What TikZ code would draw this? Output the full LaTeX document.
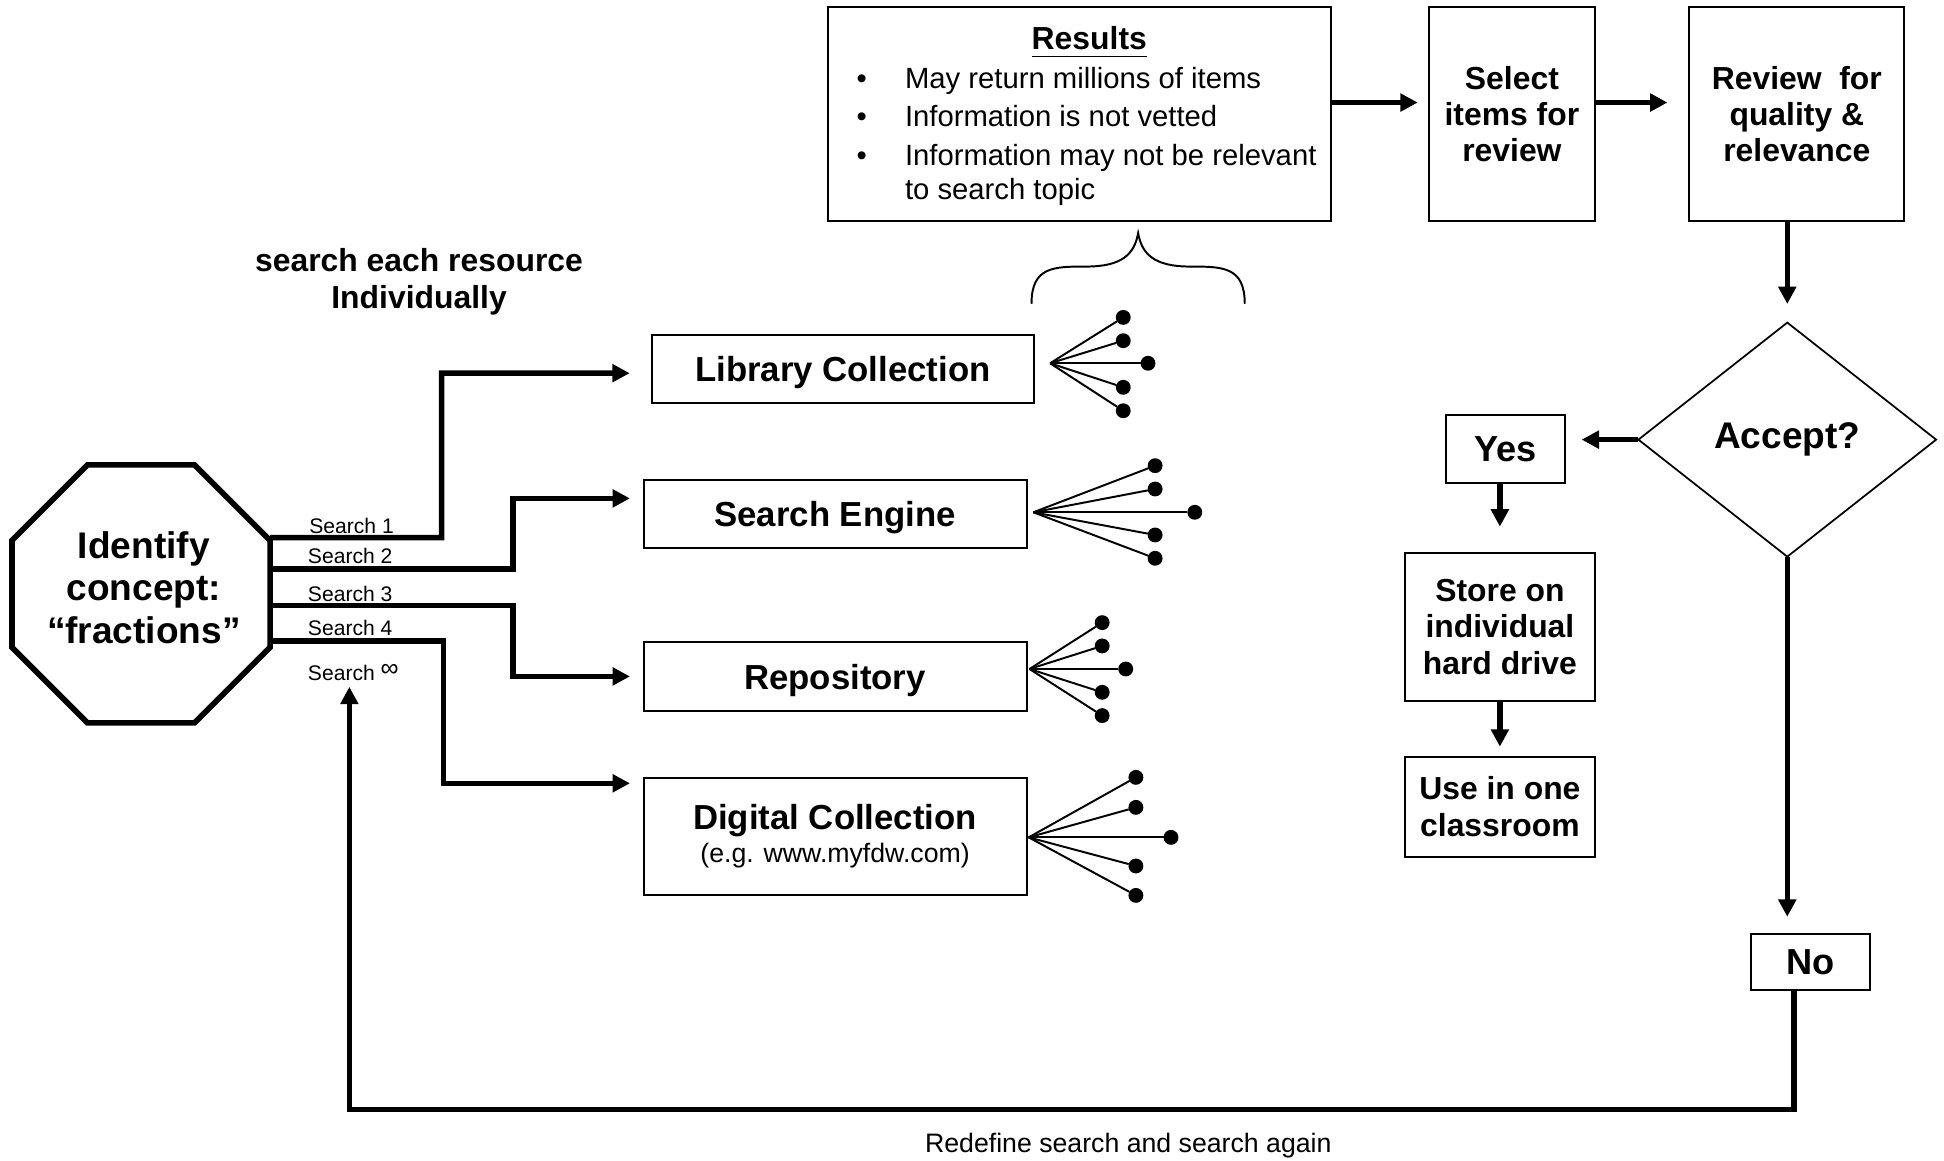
\documentclass[tikz,border=0pt]{standalone}
\usepackage{fontspec}
\setmainfont{Liberation Sans}
\usetikzlibrary{arrows.meta,calc,shapes.geometric}

\begin{document}
\begin{tikzpicture}[x=0.01cm,y=-0.01cm,
  every node/.style={inner sep=0pt,outer sep=0pt},
  box/.style={draw,line width=0.45pt,align=center},
  conn/.style={line width=0.045cm,-{Triangle[length=0.14cm,width=0.14cm]}},
  fanline/.style={line width=0.45pt},
  dot/.style={circle,fill,minimum size=0.12cm},
  fbig/.style={font=\fontsize{8.5pt}{9.76pt}\selectfont\bfseries},
  fyn/.style={font=\fontsize{8.3pt}{9.5pt}\selectfont\bfseries},
  fbox/.style={font=\fontsize{7.97pt}{8.1pt}\selectfont\bfseries},
  fmed/.style={font=\fontsize{7.31pt}{8.34pt}\selectfont\bfseries},
  flist/.style={font=\fontsize{6.71pt}{8pt}\selectfont},
  fsmall/.style={font=\fontsize{6.12pt}{7.5pt}\selectfont},
  ftiny/.style={font=\fontsize{4.84pt}{6pt}\selectfont},
]
\useasboundingbox (0,0) rectangle (1568,936);

% ---- starting point ----
\node[regular polygon,regular polygon sides=8,draw,line width=0.045cm,
      minimum size=2.252cm] (oct) at (113.75,479) {};
\node[fbig,align=center,text depth=0pt] (octtext) at (116,473.6)
      {Identify\\concept:\\“fractions”};

\node[fmed,align=center] (hint) at (338,227.3) {search each resource\\Individually};

% ---- resources ----
\node[box,fbox,minimum width=3.083cm,minimum height=0.546cm,text depth=0pt] (lib) at (679.85,297.5) {Library Collection};
\node[box,fbox,minimum width=3.087cm,minimum height=0.551cm,text depth=0pt] (seng) at (673.55,414.7) {Search Engine};
\node[box,fbox,minimum width=3.087cm,minimum height=0.552cm,text depth=0pt] (repo) at (673.55,545.6) {Repository};
\node[box,minimum width=3.087cm,minimum height=0.941cm,align=center,
      font=\fontsize{6.12pt}{7.75pt}\selectfont] (digi) at (673.55,674.5)
      {{\fontsize{7.97pt}{8pt}\selectfont\bfseries Digital Collection}\\
       (e.g. www.myfdw.com)};

% ---- search paths ----
\draw[conn,shorten >=0.177cm] ($(oct.east)+(0,-45.3)$) -- (356.2,433.7) |- ($(lib.west)+(0,3.5)$);
\draw[conn,shorten >=0.11cm]  ($(oct.east)+(0,-20)$)   -- (414,459)     |- ($(seng.west)+(0,-12.7)$);
\draw[conn,shorten >=0.11cm]  ($(oct.east)+(0,9.5)$)   -- (414,488.5)   |- (repo.west);
\draw[conn,shorten >=0.11cm]  ($(oct.east)+(0,38)$)    -- (357.6,517)   |- ($(digi.west)+(0,-42.7)$);

\node[ftiny,anchor=base west] (s1) at (249.5,430.7) {Search 1};
\node[ftiny,anchor=base west] (s2) at (248.4,454.4) {Search 2};
\node[ftiny,anchor=base west] (s3) at (248.4,485.3) {Search 3};
\node[ftiny,anchor=base west] (s4) at (248.4,512.2) {Search 4};
\node[ftiny,anchor=base west] (sinf) at (248.4,549) {Search \raisebox{0.22em}{\fontsize{5.8pt}{6pt}\selectfont ∞}};

% ---- result fans ----
\coordinate (libfan) at (847,293);
\foreach \i/\px/\py in {1/906/256,2/906/274.8,3/926/293,4/906/312.4,5/906/331.3}{
  \node[dot] (libfan\i) at (\px,\py) {};
  \draw[fanline] (libfan) -- (libfan\i);
}
\coordinate (sengfan) at (833.5,413.2);
\foreach \i/\px/\py in {1/931.7/375.6,2/931.7/394.4,3/963.7/413.2,4/931.7/431.5,5/931.7/450.3}{
  \node[dot] (sengfan\i) at (\px,\py) {};
  \draw[fanline] (sengfan) -- (sengfan\i);
}
\coordinate (repofan) at (830.4,539.6);
\foreach \i/\px/\py in {1/889/502.2,2/889/521,3/908/539.6,4/889/558.4,5/889/577.2}{
  \node[dot] (repofan\i) at (\px,\py) {};
  \draw[fanline] (repofan) -- (repofan\i);
}
\coordinate (digifan) at (829.7,675.4);
\foreach \i/\px/\py in {1/916.2/627,2/916.2/651.2,3/944.5/675.4,4/916.2/698.5,5/916.2/722.2}{
  \node[dot] (digifan\i) at (\px,\py) {};
  \draw[fanline] (digifan) -- (digifan\i);
}

% ---- brace gathering the results ----
\draw[line width=0.45pt] (832,245) .. controls (832,215) and (850,215) .. (876,215)
  .. controls (905,215) and (915,205) .. (918,188)
  .. controls (921,205) and (931,215) .. (960,215)
  .. controls (986,215) and (1004,215) .. (1004,245);

% ---- results box ----
\node[box,line width=0.55pt,minimum width=4.056cm,minimum height=1.727cm] (results) at (870.8,92) {};
\node[fmed,anchor=base] (restitle) at (878.6,40.3) {\underline{Results}};
\node[flist,anchor=base] (b1) at (695,71.3) {•};
\node[flist,anchor=base] (b2) at (695,102.2) {•};
\node[flist,anchor=base] (b3) at (695,133.1) {•};
\node[flist,anchor=base west] (t1) at (730,71.3) {May return millions of items};
\node[flist,anchor=base west] (t2) at (730,102.2) {Information is not vetted};
\node[flist,anchor=base west] (t3) at (730,133.1) {Information may not be relevant};
\node[flist,anchor=base west] (t4) at (730,161.3) {to search topic};

% ---- review chain ----
\node[box,fmed,minimum width=1.343cm,minimum height=1.728cm] (select) at (1219.5,92) {Select\\items for\\review};
\node[box,fmed,minimum width=1.734cm,minimum height=1.728cm] (review) at (1449.3,92) {Review\ \ for\\quality \&\\relevance};
\node[diamond,draw,line width=0.4pt,minimum width=2.40cm,minimum height=1.887cm,fbig] (acc) at (1441.6,354.6) {Accept?};
\node[box,fyn,minimum width=0.956cm,minimum height=0.546cm,text depth=0pt] (yes) at (1214.5,362) {Yes};
\node[box,fmed,minimum width=1.535cm,minimum height=1.194cm] (store) at (1209.8,505.5) {Store on\\individual\\hard drive};
\node[box,fmed,minimum width=1.535cm,minimum height=0.807cm] (use) at (1209.8,650.6) {Use in one\\classroom};
\node[box,fyn,minimum width=0.96cm,minimum height=0.451cm,text depth=0pt] (no) at (1460.3,776) {No};

\draw[conn,shorten >=0.088cm] ($(results.east)+(0,-9.3)$) -- ($(select.west)+(0,-9.3)$);
\draw[conn,shorten >=0.176cm] ($(select.east)+(0,-9.3)$) -- ($(review.west)+(0,-9.3)$);
\draw[conn,shorten >=0.15cm] (acc.north |- review.south) -- (acc.north);
\draw[conn,shorten >=0.134cm] (acc.west) -- (acc.west -| yes.east);
\draw[conn,shorten >=0.21cm] (store.north |- yes.south) -- (store.north);
\draw[conn,shorten >=0.08cm] (store.south) -- (use.north);
\draw[conn,shorten >=0.14cm] (acc.south) -- (acc.south |- no.north);

% ---- loop back to a new search ----
\coordinate (loopend) at (281.8,554);
\draw[conn] ($(no.south)+(-13.3,0)$) -- (1447,894.8) -| (loopend);
\node[fsmall,anchor=base] (redo) at (910.1,929.7) {Redefine search and search again};

\end{tikzpicture}
\end{document}
